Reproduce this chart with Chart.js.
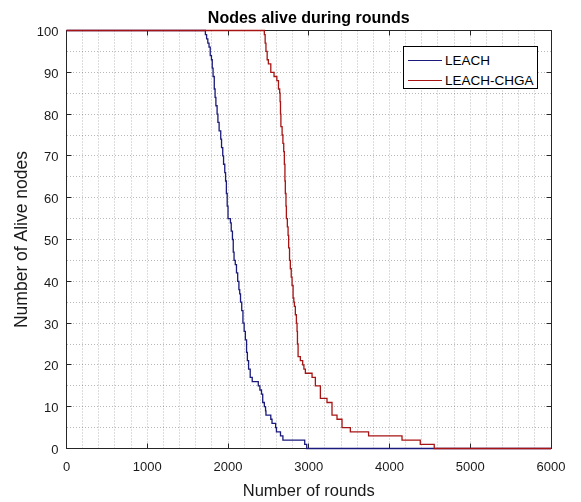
<!DOCTYPE html>
<html><head><meta charset="utf-8">
<script src="https://cdn.jsdelivr.net/npm/chart.js@4"></script>
<style>
html,body{margin:0;padding:0;background:#fff;}
#wrap{position:relative;width:581px;height:502px;}
#legend{position:absolute;left:403px;top:46px;width:135px;height:43px;border:1px solid #000;background:#fff;box-sizing:border-box;font-family:"Liberation Sans",Arial,sans-serif;font-size:13.5px;color:#000;}
.row{position:absolute;left:4px;height:16px;display:flex;align-items:center;white-space:nowrap;}
.sw{display:inline-block;width:34px;height:0;border-top:1.3px solid;margin-right:3px;}
</style></head>
<body>
<div id="wrap">
<canvas id="c" width="581" height="502"></canvas>
<div id="legend">
 <div class="row" style="top:5px"><span class="sw" style="border-color:#1a1a7c"></span>LEACH</div>
 <div class="row" style="top:25px"><span class="sw" style="border-color:#a81414"></span>LEACH-CHGA</div>
</div>
</div>
<script>
// ---- data ----
const seriesNames = ["LEACH", "LEACH-CHGA"];
const leachRounds = [0,1720,1735,1750,1765,1780,1795,1805,1815,1830,1840,1850,1865,1875,1890,1910,1920,1935,1945,1960,1970,1980,1990,2000,2030,2040,2055,2065,2075,2090,2105,2120,2135,2145,2155,2170,2185,2200,2215,2230,2240,2255,2275,2300,2375,2395,2415,2430,2450,2465,2470,2530,2545,2590,2600,2650,2680,2950,2975,6000];
const leachAlive  = [100,99,98,97,96,94,93,91,89,86,84,82,80,78,76,74,72,70,68,66,64,61,58,55,54,52,50,47,45,44,42,40,38,37,35,33,30,28,26,23,21,19,17,16,15,14,13,11,10,9,8,7,6,5,4,3,2,1,0,0];
const chgaRounds  = [0,2450,2460,2470,2485,2500,2530,2570,2605,2625,2640,2645,2650,2655,2670,2680,2690,2698,2705,2710,2718,2723,2735,2744,2751,2762,2772,2783,2793,2806,2815,2822,2834,2847,2855,2860,2868,2896,2925,2940,2958,3041,3082,3144,3226,3288,3350,3412,3515,3741,4155,4381,4554,6000];
const chgaAlive   = [100,99,97,95,93,92,90,89,88,86,85,83,80,77,75,73,71,68,64,61,58,55,53,51,48,45,43,41,39,36,35,34,32,30,28,25,22,21,20,19,18,17,15,12,11,8,7,5,4,3,2,1,0,0];
const xMajorTicks = [0,1000,2000,3000,4000,5000,6000];
const yMajorTicks = [0,10,20,30,40,50,60,70,80,90,100];

const toPts = (xs, ys) => xs.map((x, i) => ({x: x, y: ys[i]}));
const FONT = '"Liberation Sans", Arial, sans-serif';

const framePlugin = {
  id: 'frame',
  beforeDatasetsDraw(chart) {
    const {ctx, chartArea: a, scales} = chart;
    const L = Math.floor(a.left) + 0.5, R = Math.floor(a.right) + 0.5;
    const T = Math.floor(a.top) + 0.5, B = Math.floor(a.bottom) + 0.5;
    ctx.save();
    ctx.strokeStyle = '#262626';
    ctx.lineWidth = 1;
    ctx.setLineDash([]);
    ctx.strokeRect(L, T, R - L, B - T);
    const len = 5;
    ctx.beginPath();
    xMajorTicks.forEach(v => {
      const px = Math.floor(scales.x.getPixelForValue(v)) + 0.5;
      ctx.moveTo(px, B); ctx.lineTo(px, B - len);
      ctx.moveTo(px, T); ctx.lineTo(px, T + len);
    });
    yMajorTicks.forEach(v => {
      const py = Math.floor(scales.y.getPixelForValue(v)) + 0.5;
      ctx.moveTo(L, py); ctx.lineTo(L + len, py);
      ctx.moveTo(R, py); ctx.lineTo(R - len, py);
    });
    ctx.stroke();
    ctx.restore();
  }
};

new Chart(document.getElementById('c'), {
  type: 'line',
  data: {
    datasets: [
      {label: seriesNames[0], data: toPts(leachRounds, leachAlive), order: 2, borderColor: '#1a1a7c', borderWidth: 1.3, stepped: true, pointRadius: 0, fill: false, clip: false},
      {label: seriesNames[1], data: toPts(chgaRounds, chgaAlive), order: 1, borderColor: '#a81414', borderWidth: 1.3, stepped: true, pointRadius: 0, fill: false, clip: false}
    ]
  },
  options: {
    responsive: false,
    animation: false,
    events: [],
    layout: {padding: {left: 0.5, right: 30, top: 0, bottom: 0}},
    plugins: {
      legend: {display: false},
      tooltip: {enabled: false},
      title: {
        display: true, text: 'Nodes alive during rounds', fullSize: false,
        color: '#000', font: {family: FONT, size: 16, weight: 'bold', lineHeight: 1.2},
        padding: {top: 9, bottom: 2.3}
      }
    },
    scales: {
      x: {
        type: 'linear', min: 0, max: 6000,
        afterFit(s) { s.height = 53.5; },
        ticks: {stepSize: 200, autoSkip: false, maxRotation: 0, padding: 11, color: '#1a1a1a',
          font: {family: FONT, size: 13},
          callback: v => (v % 1000 === 0 ? String(v) : '')},
        grid: {drawTicks: false, color: 'rgba(0,0,0,0.28)', lineWidth: 1},
        border: {display: false, dash: [1, 2]},
        title: {display: true, text: 'Number of rounds', color: '#1a1a1a',
          font: {family: FONT, size: 16.5, lineHeight: 1.2}, padding: {top: 0, bottom: 1}}
      },
      y: {
        min: 0, max: 100,
        afterFit(s) { s.width = 66; },
        ticks: {stepSize: 5, autoSkip: false, padding: 8, labelOffset: 2, color: '#1a1a1a',
          font: {family: FONT, size: 13},
          callback: v => (v % 10 === 0 ? String(v) : '')},
        grid: {drawTicks: false, color: 'rgba(0,0,0,0.28)', lineWidth: 1},
        border: {display: false, dash: [1, 2]},
        title: {display: true, text: 'Number of Alive nodes', color: '#1a1a1a',
          font: {family: FONT, size: 17.5, lineHeight: 1.2}, padding: {top: 11, bottom: 0}}
      }
    }
  },
  plugins: [framePlugin]
});
</script>
</body></html>
